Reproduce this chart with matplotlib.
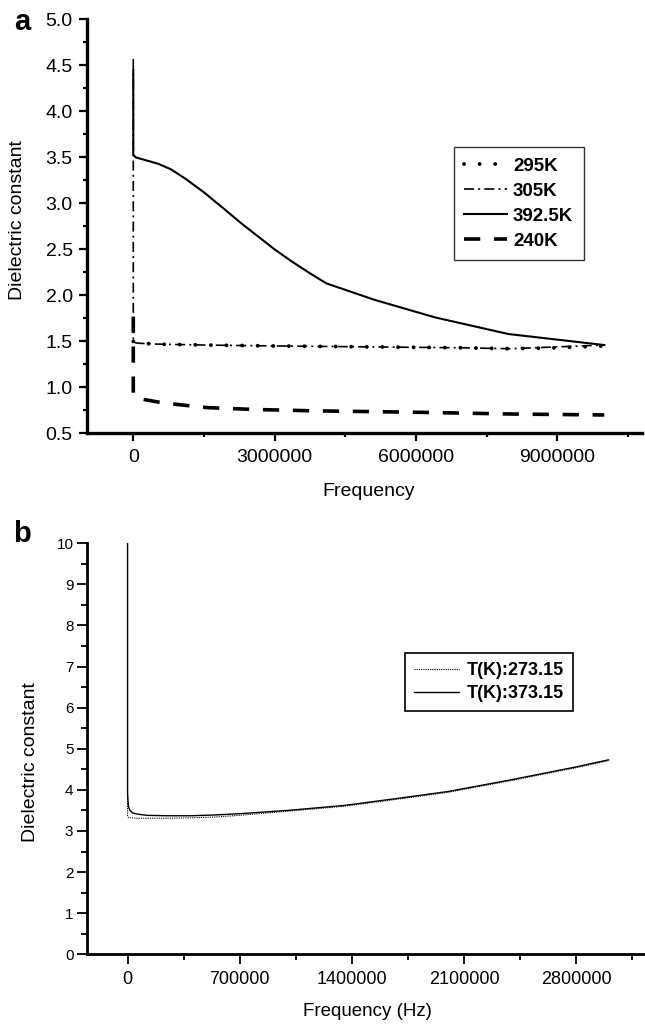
"""
Dielectric constant vs frequency, two panels (a: four temperatures, b: two temperatures).
    python plot.py
"""
import matplotlib
matplotlib.use('Agg')
import matplotlib.pyplot as plt
from matplotlib.ticker import MultipleLocator

matplotlib.rcParams.update({
    'font.family': ['Liberation Sans', 'DejaVu Sans'],
    'font.size': 14,
    'axes.spines.top': False,
    'axes.spines.right': False,
})

# ── panel a data ─────────────────────────────────────────────────────────────
freq_295 = [0, 0.1e6, 0.5e6, 1.5e6, 3.0e6, 5.0e6, 7.0e6, 8.0e6, 9.0e6, 10.0e6]
eps_295 = [1.50, 1.48, 1.47, 1.46, 1.45, 1.44, 1.43, 1.42, 1.43, 1.45]

freq_305 = [0, 0, 0.1e6, 0.5e6, 1.5e6, 3.0e6, 5.0e6, 7.0e6, 8.0e6, 9.0e6, 10.0e6]
eps_305 = [4.57, 1.49, 1.48, 1.47, 1.46, 1.45, 1.44, 1.43, 1.42, 1.44, 1.46]

freq_392 = [0, 0, 0.05e6, 0.53e6, 0.8e6, 1.1e6, 1.5e6, 1.95e6, 2.3e6, 2.65e6,
            3.0e6, 3.36e6, 3.75e6, 4.1e6, 5.13e6, 6.41e6, 7.96e6, 10.0e6]
eps_392 = [4.45, 3.53, 3.50, 3.43, 3.37, 3.27, 3.12, 2.93, 2.78, 2.64,
           2.50, 2.37, 2.24, 2.13, 1.95, 1.76, 1.58, 1.46]

freq_240 = [0, 0, 0.1e6, 0.64e6, 1.56e6, 2.55e6, 3.82e6, 5.94e6, 8.07e6, 10.0e6]
eps_240 = [1.77, 0.92, 0.88, 0.83, 0.78, 0.76, 0.745, 0.73, 0.71, 0.70]

xticks_a = [0, 3000000, 6000000, 9000000]

# ── panel b data ─────────────────────────────────────────────────────────────
freq_b = [0, 0, 5e3, 15e3, 30e3, 60e3, 120e3, 250e3, 400e3, 550e3, 700e3,
          1.0e6, 1.35e6, 1.7e6, 2.0e6, 2.4e6, 2.8e6, 3.0e6]
eps_373 = [10.0, 3.90, 3.60, 3.50, 3.44, 3.41, 3.38, 3.37, 3.37, 3.39, 3.42,
           3.50, 3.62, 3.80, 3.96, 4.25, 4.56, 4.73]
eps_273 = [3.88, 3.35, 3.33, 3.32, 3.32, 3.31, 3.31, 3.31, 3.32, 3.34, 3.38,
           3.48, 3.60, 3.78, 3.94, 4.23, 4.54, 4.71]

xticks_b = [0, 700000, 1400000, 2100000, 2800000]


def style_axis(ax, spine_w, major_len, minor_len, tick_w):
    for s in ('left', 'bottom'):
        ax.spines[s].set_linewidth(spine_w)
    ax.tick_params(which='major', direction='out', length=major_len, width=tick_w)
    ax.tick_params(which='minor', direction='out', length=minor_len, width=tick_w)


def plot_a(fig):
    ax = fig.add_axes([0.1353, 0.5768, 0.8600, 0.4043])
    l295, = ax.plot(freq_295, eps_295, color='black', lw=2.8,
                    ls=(0, (0.01, 4.0)), dash_capstyle='round', label='295K')
    l305, = ax.plot(freq_305, eps_305, color='black', lw=1.2,
                    ls=(0, (6, 2.5, 1.2, 2.5)), label='305K')
    l392, = ax.plot(freq_392, eps_392, color='black', lw=1.5, label='392.5K')
    l240, = ax.plot(freq_240, eps_240, color='black', lw=2.6,
                    ls=(0, (4.5, 3.8)), label='240K')

    ax.set_xlim(-0.977e6, 10.80e6)
    ax.set_ylim(0.5, 5.0)
    ax.set_xticks(xticks_a)
    ax.set_xticklabels([str(t) for t in xticks_a])
    ax.xaxis.set_minor_locator(MultipleLocator(1.5e6))
    ax.yaxis.set_major_locator(MultipleLocator(0.5))
    ax.yaxis.set_minor_locator(MultipleLocator(0.25))
    ax.yaxis.set_major_formatter(matplotlib.ticker.FormatStrFormatter('%.1f'))
    style_axis(ax, 2.4, 5.5, 3.0, 1.6)
    ax.tick_params(axis='y', labelsize=14, pad=5)
    ax.tick_params(axis='x', labelsize=14, pad=6)

    ax.set_xlabel('Frequency', fontsize=14)
    ax.xaxis.set_label_coords(0.507, -0.12)
    ax.set_ylabel('Dielectric constant', fontsize=14)
    ax.yaxis.set_label_coords(-0.11, 0.514)

    leg = ax.legend(handles=[l295, l305, l392, l240], loc='upper left',
                    bbox_to_anchor=(0.661, 0.691), borderaxespad=0,
                    prop={'weight': 'bold', 'size': 13.5}, handlelength=2.3,
                    handletextpad=0.3, labelspacing=0.42, borderpad=0.55,
                    fancybox=False, framealpha=1)
    leg.get_frame().set_edgecolor('#333333')
    leg.get_frame().set_linewidth(1.0)

    fig.text(0.034, 0.979, 'a', fontsize=21, fontweight='bold', ha='center', va='center')


def plot_b(fig):
    ax = fig.add_axes([0.1353, 0.0681, 0.8647, 0.4014])
    l273, = ax.plot(freq_b, eps_273, color='black', lw=0.8, ls=(0, (1, 1)),
                    label='T(K):273.15')
    l373, = ax.plot(freq_b, eps_373, color='black', lw=1.0, label='T(K):373.15')

    ax.set_xlim(-0.2514e6, 3.228e6)
    ax.set_ylim(0, 10)
    ax.set_xticks(xticks_b)
    ax.set_xticklabels([str(t) for t in xticks_b])
    ax.xaxis.set_minor_locator(MultipleLocator(350000))
    ax.yaxis.set_major_locator(MultipleLocator(1))
    ax.yaxis.set_minor_locator(MultipleLocator(0.5))
    style_axis(ax, 2.0, 7.0, 4.0, 1.3)
    ax.tick_params(axis='y', labelsize=11, pad=3)
    ax.tick_params(axis='x', labelsize=13, pad=5)

    ax.set_xlabel('Frequency (Hz)', fontsize=13.5)
    ax.xaxis.set_label_coords(0.502, -0.118)
    ax.set_ylabel('Dielectric constant', fontsize=14)
    ax.yaxis.set_label_coords(-0.087, 0.467)

    leg = ax.legend(handles=[l273, l373], loc='upper left',
                    bbox_to_anchor=(0.570, 0.732), borderaxespad=0,
                    prop={'weight': 'bold', 'size': 13}, handlelength=2.5,
                    handletextpad=0.4, labelspacing=0.3, borderpad=0.5,
                    fancybox=False, framealpha=1)
    leg.get_frame().set_edgecolor('black')
    leg.get_frame().set_linewidth(1.2)

    fig.text(0.034, 0.479, 'b', fontsize=21, fontweight='bold', ha='center', va='center')


def main():
    fig = plt.figure(figsize=(6.45, 10.24), dpi=100)
    plot_a(fig)
    plot_b(fig)
    fig.savefig('out.png', dpi=100)
    plt.close(fig)
    print("Saved: out.png")


if __name__ == '__main__':
    main()
